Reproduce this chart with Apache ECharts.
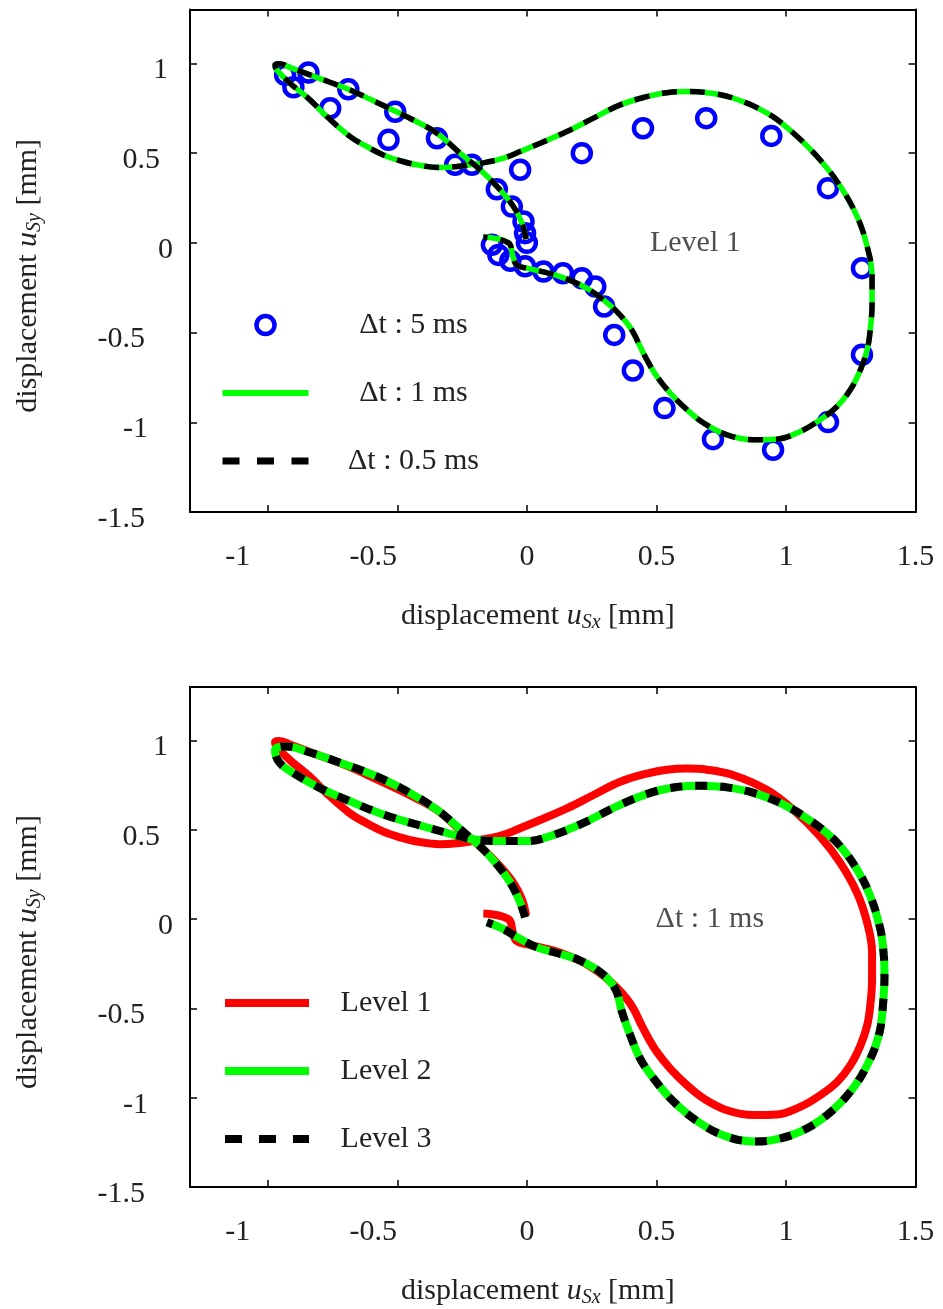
<!DOCTYPE html>
<html>
<head>
<meta charset="utf-8">
<script src="https://cdn.jsdelivr.net/npm/echarts@6/dist/echarts.min.js"></script>
<style>
html,body{margin:0;padding:0;background:#fff;}
#c{width:943px;height:1309px;}
</style>
</head>
<body>
<div id="c"></div>
<script>
// ---------- data ----------
const xTicks = [-1, -0.5, 0, 0.5, 1, 1.5];
const yTicks = [-1.5, -1, -0.5, 0, 0.5, 1];

// Level 1, dt = 5 ms (circles)
const dt5ms = [
  [-0.933,0.936],[-0.901,0.867],[-0.843,0.949],[-0.759,0.75],[-0.689,0.856],
  [-0.534,0.574],[-0.508,0.731],[-0.347,0.583],[-0.277,0.435],[-0.212,0.435],
  [-0.026,0.407],[-0.116,0.299],[-0.058,0.202],[-0.013,0.119],[-0.007,0.054],
  [0.0,0.0],[-0.135,-0.011],[-0.11,-0.067],[-0.064,-0.1],[-0.007,-0.13],
  [0.064,-0.16],[0.139,-0.169],[0.212,-0.197],[0.264,-0.243],[0.298,-0.355],
  [0.337,-0.513],[0.409,-0.711],[0.531,-0.921],[0.718,-1.094],[0.95,-1.153],
  [1.162,-0.999],[1.293,-0.624],[1.293,-0.141],[1.162,0.305],[0.943,0.596],
  [0.692,0.695],[0.448,0.639],[0.212,0.5]
];

// Level 1, dt = 1 ms (trajectory)
const dt1ms = [
  [-0.003,0.02],[-0.019,0.11],[-0.052,0.202],[-0.103,0.295],[-0.18,0.407],
  [-0.258,0.5],[-0.347,0.611],[-0.425,0.675],[-0.503,0.731],[-0.6,0.797],
  [-0.682,0.852],[-0.76,0.895],[-0.837,0.936],[-0.91,0.975],[-0.955,0.998],
  [-0.972,0.99],[-0.965,0.964],[-0.914,0.89],[-0.837,0.797],[-0.772,0.704],
  [-0.682,0.592],[-0.618,0.537],[-0.554,0.49],[-0.49,0.458],[-0.425,0.435],
  [-0.335,0.42],[-0.27,0.425],[-0.206,0.438],[-0.154,0.45],[-0.09,0.472],
  [-0.026,0.509],[0.051,0.555],[0.154,0.62],[0.257,0.695],[0.36,0.769],
  [0.463,0.815],[0.54,0.837],[0.618,0.843],[0.695,0.837],[0.798,0.806],
  [0.927,0.723],[1.029,0.611],[1.132,0.462],[1.21,0.314],[1.274,0.147],
  [1.313,-0.02],[1.332,-0.188],[1.332,-0.336],[1.325,-0.485],[1.313,-0.596],
  [1.287,-0.708],[1.248,-0.819],[1.197,-0.912],[1.132,-0.986],[1.055,-1.051],
  [0.965,-1.094],[0.875,-1.097],[0.772,-1.07],[0.682,-1.004],[0.618,-0.93],
  [0.553,-0.837],[0.502,-0.745],[0.47,-0.67],[0.437,-0.578],[0.412,-0.503],
  [0.386,-0.447],[0.347,-0.383],[0.296,-0.318],[0.25,-0.27],[0.206,-0.234],
  [0.129,-0.188],[0.064,-0.162],[0.013,-0.145],[-0.039,-0.123],[-0.054,-0.076],
  [-0.071,0.0],[-0.168,0.032]
];

// Level 1, dt = 0.5 ms: coincides with dt = 1 ms in the picture
const dt05ms = dt1ms;

// dt = 1 ms, mesh levels
const level1 = dt1ms;
const level2 = [
  [-0.007,0.01],[-0.026,0.093],[-0.064,0.205],[-0.116,0.307],[-0.168,0.39],
  [-0.219,0.456],[-0.27,0.52],[-0.347,0.613],[-0.451,0.707],[-0.579,0.799],
  [-0.734,0.883],[-0.849,0.939],[-0.927,0.967],[-0.962,0.962],[-0.972,0.944],
  [-0.953,0.874],[-0.901,0.818],[-0.798,0.734],[-0.682,0.66],[-0.554,0.586],
  [-0.425,0.53],[-0.309,0.483],[-0.219,0.45],[-0.168,0.44],[-0.09,0.437],
  [0.0,0.437],[0.09,0.465],[0.219,0.539],[0.347,0.632],[0.476,0.707],
  [0.579,0.74],[0.669,0.747],[0.772,0.738],[0.875,0.707],[0.991,0.641],
  [1.107,0.539],[1.197,0.428],[1.274,0.279],[1.325,0.13],[1.364,-0.056],
  [1.377,-0.2],[1.38,-0.297],[1.374,-0.483],[1.358,-0.651],[1.313,-0.818],
  [1.248,-0.967],[1.158,-1.097],[1.055,-1.19],[0.952,-1.236],[0.875,-1.245],
  [0.772,-1.218],[0.669,-1.143],[0.566,-1.022],[0.489,-0.892],[0.437,-0.781],
  [0.399,-0.651],[0.367,-0.52],[0.341,-0.39],[0.283,-0.297],[0.206,-0.232],
  [0.129,-0.195],[0.039,-0.158],[-0.039,-0.1],[-0.09,-0.056],[-0.154,-0.018]
];
// Level 3 coincides with Level 2 in the picture
const level3 = level2;

const topLegend = ['Δt : 5 ms', 'Δt : 1 ms', 'Δt : 0.5 ms'];
const bottomLegend = ['Level 1', 'Level 2', 'Level 3'];
const topNote = 'Level 1';
const topNotePos = [[0.65, 0]];
const bottomNote = 'Δt : 1 ms';
const bottomNotePos = [[0.706, 0]];

// ---------- styles ----------
const FONT = 'Liberation Serif';
const TXT = '#222';
const FS = 30;
const SMOOTH = 0.4;

const xLabelPad = {'-1': 60, '-0.5': 48};
const yLabelPad = {'-1.5': 28, '-1': 25, '-0.5': 28, '0': 0, '0.5': 13, '1': 5};
function keyOf(v) { return 'k' + String(v).replace('-', 'm').replace('.', 'p'); }
const xRich = {}, yRich = {};
xTicks.forEach(v => {
  xRich[keyOf(v)] = {fontFamily: FONT, fontSize: FS, color: TXT, padding: [0, xLabelPad[String(v)] || 0, 0, 0]};
});
yTicks.forEach(v => {
  yRich[keyOf(v)] = {fontFamily: FONT, fontSize: FS, color: TXT, padding: [14, yLabelPad[String(v)] || 0, 0, 0]};
});

const nameRich = {
  a: {fontFamily: FONT, fontSize: FS, color: TXT, lineHeight: 34},
  b: {fontFamily: FONT, fontSize: FS, color: TXT, fontStyle: 'italic', lineHeight: 34},
  c: {fontFamily: FONT, fontSize: 20, color: TXT, fontStyle: 'italic', lineHeight: 20, verticalAlign: 'bottom'}
};

const axisLine = {show: true, onZero: false, lineStyle: {color: '#000', width: 2}};

function xAxes(gi) {
  const tick = {show: true, inside: true, length: 7, customValues: xTicks, lineStyle: {color: '#000', width: 1.5}};
  return [{
    type: 'value', gridIndex: gi, position: 'bottom', min: -1.3, max: 1.5,
    axisLine: axisLine, axisTick: tick, splitLine: {show: false},
    axisLabel: {show: true, customValues: xTicks, margin: 30, fontFamily: FONT, fontSize: FS, color: TXT,
      formatter: v => '{' + keyOf(v) + '|' + v + '}', rich: xRich},
    name: '{a|displacement }{b|u}{c|Sx}{a| [mm]}', nameLocation: 'middle', nameGap: 87,
    nameTextStyle: {fontFamily: FONT, fontSize: FS, color: TXT, rich: nameRich, padding: [0, 30, 0, 0]}
  }, {
    type: 'value', gridIndex: gi, position: 'top', min: -1.3, max: 1.5,
    axisLine: axisLine, axisTick: tick, splitLine: {show: false}, axisLabel: {show: false}
  }];
}
function yAxes(gi) {
  const tick = {show: true, inside: true, length: 7, customValues: yTicks, lineStyle: {color: '#000', width: 1.5}};
  return [{
    type: 'value', gridIndex: gi, position: 'left', min: -1.5, max: 1.3,
    axisLine: axisLine, axisTick: tick, splitLine: {show: false},
    axisLabel: {show: true, customValues: yTicks, margin: 17, fontFamily: FONT, fontSize: FS, color: TXT,
      formatter: v => '{' + keyOf(v) + '|' + v + '}', rich: yRich},
    name: '{a|displacement }{b|u}{c|Sy}{a| [mm]}', nameLocation: 'middle', nameGap: 145,
    nameTextStyle: {fontFamily: FONT, fontSize: FS, color: TXT, rich: nameRich, padding: [0, 30, 0, 0]}
  }, {
    type: 'value', gridIndex: gi, position: 'right', min: -1.5, max: 1.3,
    axisLine: axisLine, axisTick: tick, splitLine: {show: false}, axisLabel: {show: false}
  }];
}

function note(text, pos, xi, yi) {
  return {
    type: 'scatter', name: 'note' + xi, xAxisIndex: xi, yAxisIndex: yi, data: pos,
    symbolSize: 0.01, itemStyle: {color: 'rgba(0,0,0,0)'}, silent: true, z: 1,
    label: {show: true, position: 'inside', formatter: text, fontFamily: FONT, fontSize: FS, color: TXT}
  };
}

const chart = echarts.init(document.getElementById('c'), null, {renderer: 'canvas'});
chart.setOption({
  animation: false,
  backgroundColor: '#fff',
  grid: [
    {left: 190, right: 27.4, top: 9.6, bottom: 797},
    {left: 190, right: 27.4, top: 687, bottom: 120}
  ],
  xAxis: [].concat(xAxes(0), xAxes(1)),
  yAxis: [].concat(yAxes(0), yAxes(1)),
  legend: [{
    left: 219, top: 310, orient: 'vertical', padding: 0, itemWidth: 86, itemHeight: 18, itemGap: 38,
    selectedMode: false,
    data: [
      {name: topLegend[0], icon: 'circle', itemStyle: {borderWidth: 4.5, borderColor: '#0000ff', color: 'rgba(0,0,0,0)', opacity: 1}},
      {name: topLegend[1], itemStyle: {opacity: 0}, lineStyle: {width: 6}},
      {name: topLegend[2], itemStyle: {opacity: 0}, lineStyle: {width: 7, type: [17, 17.5]}}
    ],
    formatter: n => '{t|' + n + '}',
    textStyle: {fontFamily: FONT, fontSize: FS, color: TXT,
      rich: {t: {fontFamily: FONT, fontSize: FS, color: TXT, width: 200, align: 'center', lineHeight: 34}}}
  }, {
    left: 221, top: 988, orient: 'vertical', padding: 0, itemWidth: 84, itemHeight: 18, itemGap: 38,
    selectedMode: false,
    data: [
      {name: bottomLegend[0], itemStyle: {opacity: 0}, lineStyle: {width: 8}},
      {name: bottomLegend[1], itemStyle: {opacity: 0}, lineStyle: {width: 8}},
      {name: bottomLegend[2], itemStyle: {opacity: 0}, lineStyle: {width: 8, type: [17, 17]}}
    ],
    formatter: n => '{t|' + n + '}',
    textStyle: {fontFamily: FONT, fontSize: FS, color: TXT,
      rich: {t: {fontFamily: FONT, fontSize: FS, color: TXT, width: 144, align: 'center', lineHeight: 34}}}
  }],
  series: [
    {
      type: 'scatter', name: topLegend[0], xAxisIndex: 0, yAxisIndex: 0, data: dt5ms, z: 2,
      symbol: 'circle', symbolSize: 18,
      itemStyle: {color: 'rgba(0,0,0,0)', borderColor: '#0000ff', borderWidth: 4.5, opacity: 1}
    },
    {
      type: 'line', name: topLegend[1], xAxisIndex: 0, yAxisIndex: 0, data: dt1ms, z: 3,
      symbol: 'none', showSymbol: false, smooth: SMOOTH, color: '#00ff00',
      lineStyle: {color: '#00ff00', width: 5.5}
    },
    {
      type: 'line', name: topLegend[2], xAxisIndex: 0, yAxisIndex: 0, data: dt05ms, z: 4,
      symbol: 'none', showSymbol: false, smooth: SMOOTH, color: '#000',
      lineStyle: {color: '#000', width: 5.5, type: [15, 13], cap: 'butt'}
    },
    note(topNote, topNotePos, 0, 0),
    {
      type: 'line', name: bottomLegend[0], xAxisIndex: 2, yAxisIndex: 2, data: level1, z: 2,
      symbol: 'none', showSymbol: false, smooth: SMOOTH, color: '#ff0000',
      lineStyle: {color: '#ff0000', width: 8}
    },
    {
      type: 'line', name: bottomLegend[1], xAxisIndex: 2, yAxisIndex: 2, data: level2, z: 3,
      symbol: 'none', showSymbol: false, smooth: SMOOTH, color: '#00ff00',
      lineStyle: {color: '#00ff00', width: 8}
    },
    {
      type: 'line', name: bottomLegend[2], xAxisIndex: 2, yAxisIndex: 2, data: level3, z: 4,
      symbol: 'none', showSymbol: false, smooth: SMOOTH, color: '#000',
      lineStyle: {color: '#000', width: 8, type: [12, 13], cap: 'butt'}
    },
    note(bottomNote, bottomNotePos, 2, 2)
  ]
});
</script>
</body>
</html>
